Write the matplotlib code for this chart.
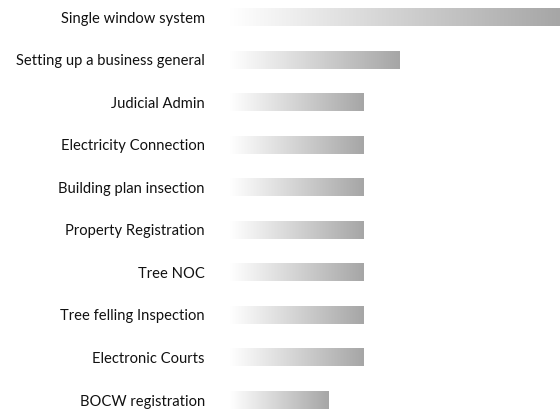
import matplotlib.pyplot as plt
import numpy as np
from matplotlib.colors import LinearSegmentedColormap

categories = ['Single window system', 'Setting up a business general', 'Judicial Admin',
              'Electricity Connection', 'Building plan insection', 'Property Registration',
              'Tree NOC', 'Tree felling Inspection', 'Electronic Courts', 'BOCW registration']
values = [10, 5.15, 4.05, 4.05, 4.05, 4.05, 4.05, 4.05, 4.05, 3]

plt.rcParams['font.family'] = ['Lato', 'DejaVu Sans']

fig = plt.figure(figsize=(5.6, 4.09), dpi=100)
ax = fig.add_axes([230/560, 0, 330/560, 1])

cmap = LinearSegmentedColormap.from_list('grad', ['#ffffff', '#a6a6a6'])
grad = np.linspace(0, 1, 256).reshape(1, -1)
h = 0.42
y = np.arange(len(categories))
for yi, v in zip(y, values):
    ax.imshow(grad, cmap=cmap, aspect='auto', interpolation='bicubic',
              extent=(0, v, yi + h/2, yi - h/2))

ax.set_xlim(0, 10)
ax.set_ylim(9.21, -0.4)
ax.set_yticks(y)
ax.set_yticklabels(categories, fontsize=10.6, color='#111111')
ax.tick_params(axis='y', length=0, pad=18)
ax.set_xticks([])
for s in ax.spines.values():
    s.set_visible(False)

fig.savefig('out.png', dpi=100)
